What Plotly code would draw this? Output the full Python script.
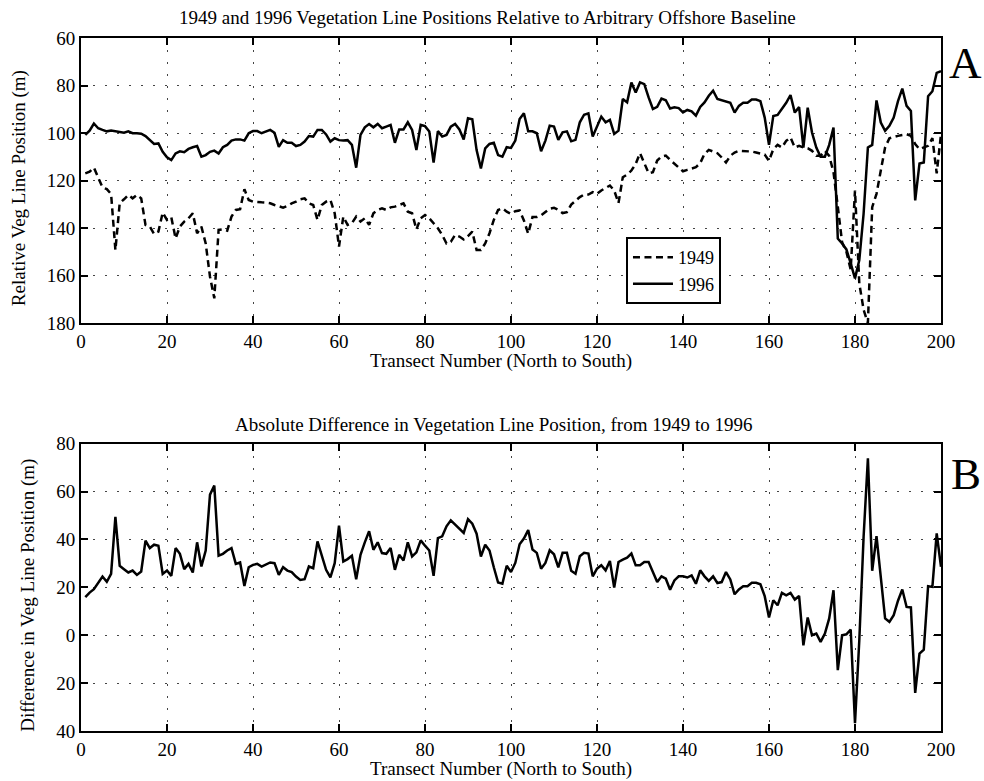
import plotly.graph_objects as go

# Transect numbers along the shore (north to south)
transects = list(range(1, 201))

# Vegetation line position relative to the offshore baseline (m)
veg_1949 = [
    117, 116.3, 114.6, 118.4, 122.9, 123.6, 125.7, 149.3, 129.6, 127.9,
    126.1, 127.5, 126.1, 127.5, 138.7, 139.4, 142.5, 141.5, 133.5, 136.6,
    135.5, 144.4, 139.4, 137.3, 135.9, 133.8, 142.2, 139.4, 146.5, 160.5,
    169.6, 140.8, 140.6, 141.1, 135.2, 132.4, 132.1, 123.7, 128.2, 128.9,
    128.9, 129.2, 129.3, 129.6, 130.3, 131, 131.4, 130.7, 129.6, 128.9,
    127.9, 127.5, 129.6, 130.3, 136.6, 130.3, 128.9, 128.2, 133.8, 147.8,
    135.2, 138.7, 138, 135.2, 137.3, 135.9, 138.7, 133.8, 132.4, 131.7,
    132.4, 131.3, 131, 130.3, 129.6, 133.1, 133.8, 140.6, 135.9, 134.5,
    135.9, 138, 140.1, 142.9, 146.5, 145.8, 142.9, 143.6, 144.8, 143.4,
    141.5, 149.3, 149.3, 146.5, 142.2, 136.6, 132.4, 131.7, 133.1, 134,
    132.9, 132.6, 136.8, 142.4, 135.4, 135.4, 134.7, 133.3, 131.9, 131.5,
    132.3, 133.7, 133.3, 130.1, 128.4, 127, 125.9, 125.9, 124.9, 125.6,
    124.2, 123.1, 122.1, 124.2, 129.5, 118.6, 117.5, 115.8, 113, 108.5,
    112.7, 116.9, 116.5, 111.6, 109.9, 109.5, 111.3, 113, 114.7, 116.1,
    115.5, 115.1, 114.4, 112.7, 108.8, 107.1, 107.7, 108.5, 110.3, 112.4,
    109.6, 108.2, 107.5, 107.5, 107.8, 107.8, 108.2, 108.6, 109.1, 111.7,
    106.8, 105, 106.1, 103.3, 101.9, 106.1, 105.4, 106.1, 106.4, 107.5,
    109.6, 109.6, 107.5, 109.6, 116.5, 131, 146, 150, 157.5, 124.2,
    163.3, 174.4, 180, 131.2, 125.6, 115.8, 106.1, 102.2, 101.6, 101.2,
    100.8, 100.5, 101.2, 104.7, 106.8, 106.1, 105.4, 102.2, 117, 100.5,
]

veg_1996 = [
    100.8, 99, 96, 98, 98.7, 99.3, 99, 99.3, 99.4, 99.9,
    99.3, 100.1, 100.1, 100.3, 101.3, 103, 104.6, 104.4, 107.9, 110.2,
    111.4, 108.6, 107.7, 108.1, 106.7, 106, 105.5, 110, 109.3, 107.9,
    107.4, 108.6, 106, 105, 103.2, 102.7, 102.7, 103.2, 100.1, 99.2,
    99.2, 100.1, 99.4, 98.7, 99.9, 105.8, 103, 104.1, 104.1, 105.5,
    105, 103.6, 101.3, 101.5, 98.7, 98.7, 100.6, 103.6, 102.2, 103,
    103.2, 103, 105, 114.6, 100.8, 97.6, 96.2, 97.6, 96.2, 98,
    97.3, 96.6, 104.1, 98.5, 98.5, 95.5, 98.7, 107.2, 96.6, 97.1,
    99.4, 112.4, 99.2, 101.5, 100.8, 97.3, 96.2, 98.5, 102.7, 93.8,
    94.2, 107.2, 114.9, 106.5, 104.6, 104.1, 109.3, 110, 106, 106.3,
    103.2, 94.1, 91.7, 99.3, 99.3, 100.1, 107.7, 103.2, 96.9, 97.3,
    102.9, 99.7, 99.3, 103.5, 102.9, 95.5, 92.3, 91.7, 101.5, 96.9,
    93.1, 95.5, 94.5, 100.4, 99, 85.7, 87.1, 78.7, 82.9, 78.7,
    79.4, 85, 89.9, 89, 85.5, 86.2, 89.7, 89.2, 89.5, 91.3,
    90.3, 90.9, 92.7, 89, 87.1, 84.3, 82.2, 85.7, 86.3, 86.8,
    87.3, 91.4, 88.6, 87.3, 87.3, 85.9, 85.9, 86.6, 93.5, 105,
    92.8, 92.4, 90, 87.3, 84, 91.4, 89.1, 106.1, 89.3, 99.8,
    106.1, 110, 110, 105, 97.7, 144.4, 146.5, 149, 154.9, 161.2,
    153.5, 134, 106.1, 105, 86.3, 95.6, 99.1, 97, 93.5, 86.6,
    81.3, 88.6, 90.7, 128.4, 112.8, 112.4, 84.5, 82.4, 74.7, 74,
]

# Change in vegetation line position between 1949 and 1996 (m)
veg_change = [
    15.9, 17.8, 19.2, 22, 24.5, 22.3, 25.6, 49.4, 29, 27.6,
    26.2, 27, 25.2, 26.6, 39.5, 36.4, 37.8, 37.4, 25.6, 27,
    24.8, 36.4, 34, 27.6, 29.8, 26.2, 38.8, 28.7, 35.4, 58.7,
    62.5, 33.2, 34, 35.4, 36.4, 29.8, 30.4, 20.6, 28.4, 29.4,
    29.8, 28.7, 29.4, 30.4, 30.1, 25.2, 28.4, 27, 26.4, 24.5,
    23.1, 23.4, 28.7, 28, 39.2, 32.9, 27.3, 24.2, 30.1, 45.8,
    30.8, 31.8, 33.2, 23.4, 33.6, 38.8, 43.4, 35.7, 38.8, 34.3,
    34, 36.4, 27.3, 33.6, 31.2, 38.8, 32.9, 34.6, 39.6, 37.4,
    35.4, 24.8, 40.6, 41.3, 45.5, 48, 46.2, 44.4, 42.7, 48.5,
    46.6, 42.4, 32.9, 37.8, 35.4, 28.4, 22, 21.5, 29, 26.4,
    30.2, 38, 40.4, 43.9, 35.8, 34.4, 27.8, 30.2, 35.5, 33.8,
    28.3, 34.4, 34.4, 26.9, 25.7, 33, 34.4, 34.1, 24.6, 27.8,
    29.2, 27.1, 31, 19.9, 30.6, 31.6, 32.4, 34.1, 29.2, 29.2,
    30.6, 30.6, 26.4, 22.2, 24.6, 23.6, 19, 22.9, 24.6, 24.6,
    24.1, 25, 21.5, 27.1, 24.6, 22.7, 24.6, 21.8, 22.2, 26.4,
    23.3, 17.1, 19.1, 20.5, 20.5, 21.9, 21.9, 21.3, 16.3, 7.4,
    14.6, 12.5, 17.7, 16.7, 17.7, 14.9, 16.4, -4.2, 7.4, 0,
    0.7, -2.8, 0.7, 7, 18.8, -14.6, 0, 0.4, 2.4, -36.7,
    -2.1, 41.1, 73.9, 26.9, 41.4, 24.4, 7, 5.6, 8.4, 14.4,
    19.1, 11.8, 11.6, -24.1, -7.7, -6, 20.5, 20.2, 42.5, 28.6,
]

x_ticks = list(range(0, 201, 20))
top_y_ticks = list(range(60, 181, 20))
bottom_y_ticks = list(range(-40, 81, 20))
bottom_y_ticktext = ["40", "20", "0", "20", "40", "60", "80"]

FONT = "Liberation Serif, Times New Roman, serif"
BLACK = "#000000"

fig = go.Figure()

fig.add_trace(go.Scatter(
    x=transects, y=veg_1949, name="1949", mode="lines",
    line=dict(color=BLACK, width=2.5, dash="7px,4.5px"),
    xaxis="x", yaxis="y",
))
fig.add_trace(go.Scatter(
    x=transects, y=veg_1996, name="1996", mode="lines",
    line=dict(color=BLACK, width=2.5),
    xaxis="x", yaxis="y",
))
fig.add_trace(go.Scatter(
    x=transects, y=veg_change, name="difference", mode="lines",
    line=dict(color=BLACK, width=2.5), showlegend=False,
    xaxis="x2", yaxis="y2",
))

common_axis = dict(
    showline=True, linecolor=BLACK, linewidth=2, mirror="ticks",
    ticks="inside", ticklen=7, tickwidth=1.5, tickcolor=BLACK,
    showgrid=True, gridcolor="#444444", gridwidth=1, griddash="2px,10px",
    zeroline=False,
    tickfont=dict(family=FONT, size=19, color=BLACK),
)

fig.update_layout(
    width=984, height=781,
    margin=dict(l=81, r=43, t=38, b=50),
    paper_bgcolor="white", plot_bgcolor="white",
    font=dict(family=FONT, size=19, color=BLACK),
    xaxis=dict(domain=[0, 1], range=[0, 200], tickvals=x_ticks,
               anchor="y", **common_axis),
    yaxis=dict(domain=[0.5887, 1], range=[180, 60], tickvals=top_y_ticks,
               anchor="x", **common_axis),
    xaxis2=dict(domain=[0, 1], range=[0, 200], tickvals=x_ticks,
                anchor="y2", **common_axis),
    yaxis2=dict(domain=[0, 0.4146], range=[-40, 80], tickvals=bottom_y_ticks,
                ticktext=bottom_y_ticktext, anchor="x2", **common_axis),
    legend=dict(
        x=0.6337, y=0.7128, xanchor="left", yanchor="top",
        bordercolor=BLACK, borderwidth=2, bgcolor="white",
        itemwidth=40,
        font=dict(family=FONT, size=18, color=BLACK),
    ),
    showlegend=True,
)

annotations = [
    dict(text="1949 and 1996 Vegetation Line Positions Relative to Arbitrary Offshore Baseline",
         x=0.4727, y=1.030, size=19),
    dict(text="Transect Number (North to South)", x=0.4878, y=0.534, size=19),
    dict(text="Absolute Difference in Vegetation Line Position, from 1949 to 1996",
         x=0.4797, y=0.442, size=19),
    dict(text="Transect Number (North to South)", x=0.4878, y=-0.055, size=19),
    dict(text="Relative Veg Line Position (m)", x=-0.0727, y=0.784, size=19, angle=-90),
    dict(text="Difference in Veg Line Position (m)", x=-0.061, y=0.196, size=19, angle=-90),
    dict(text="A", x=1.029, y=0.964, size=45),
    dict(text="B", x=1.029, y=0.371, size=45),
]
for a in annotations:
    fig.add_annotation(
        text=a["text"], x=a["x"], y=a["y"], xref="paper", yref="paper",
        xanchor="center", yanchor="middle", showarrow=False,
        textangle=a.get("angle", 0),
        font=dict(family=FONT, size=a["size"], color=BLACK),
    )

fig.write_html("out.html")
